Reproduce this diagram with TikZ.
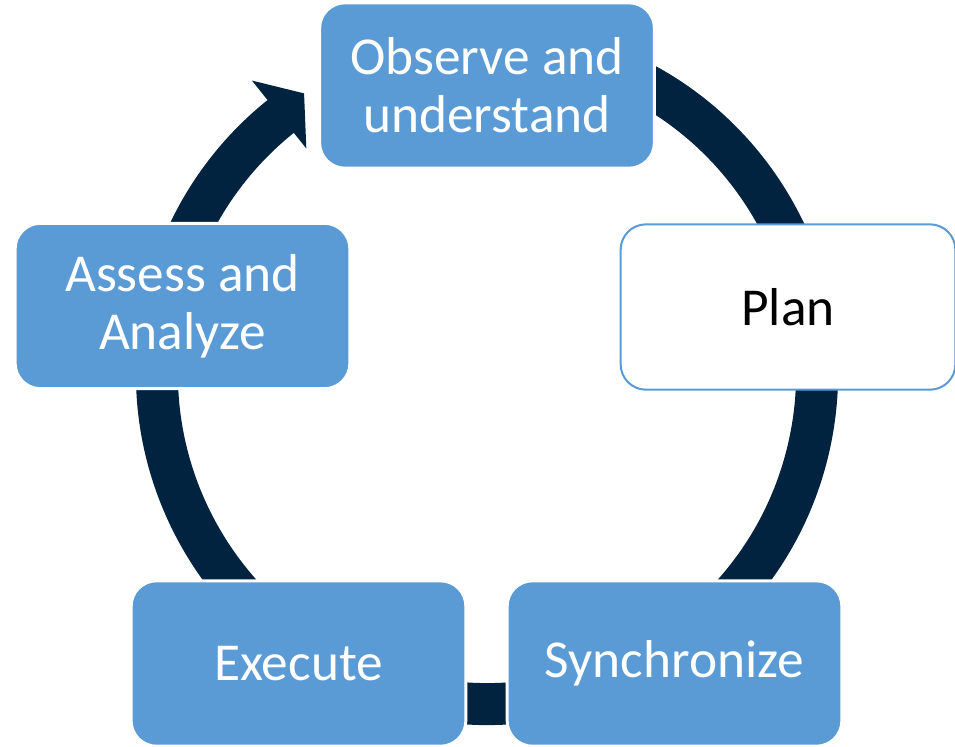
\documentclass[tikz,border=0pt]{standalone}
\usepackage{fontspec}
\setmainfont{Carlito}
\definecolor{stageblue}{HTML}{5B9BD5}
\definecolor{ringnavy}{HTML}{02233F}
\begin{document}
\begin{tikzpicture}[x=0.75pt,y=0.75pt,
    stage/.style={rectangle,rounded corners=19pt,minimum width=251pt,minimum height=124pt,
      fill=stageblue,draw=white,line width=2.2pt,text=white,align=center,
      font=\fontsize{40}{43.5}\selectfont},
    openstage/.style={stage,fill=white,draw=stageblue,line width=1.5pt,text=black},
    ring/.style={draw=ringnavy,line width=31.5pt}]
  \useasboundingbox (0,0) rectangle (955,-746);

  \coordinate (hub) at (487,-374);
  % the cycle ring, tail hidden behind the first box
  \draw[ring,shift={(hub)}] (75:330) arc[start angle=75,end angle=-232,radius=330];
  \fill[ringnavy,shift={(hub)}] (128.7:289) -- (123.1:335) -- (128.7:376) -- cycle;

  \node[stage] (observe) at (487,-85.5) {Observe and\\understand};
  \node[openstage] (plan) at (788,-307) {Plan};
  \node[stage] (sync) at (674.5,-663.5) {Synchronize};
  \node[stage] (execute) at (298.5,-663.5) {Execute};
  \node[stage] (assess) at (182.5,-306) {Assess and\\Analyze};
\end{tikzpicture}
\end{document}
